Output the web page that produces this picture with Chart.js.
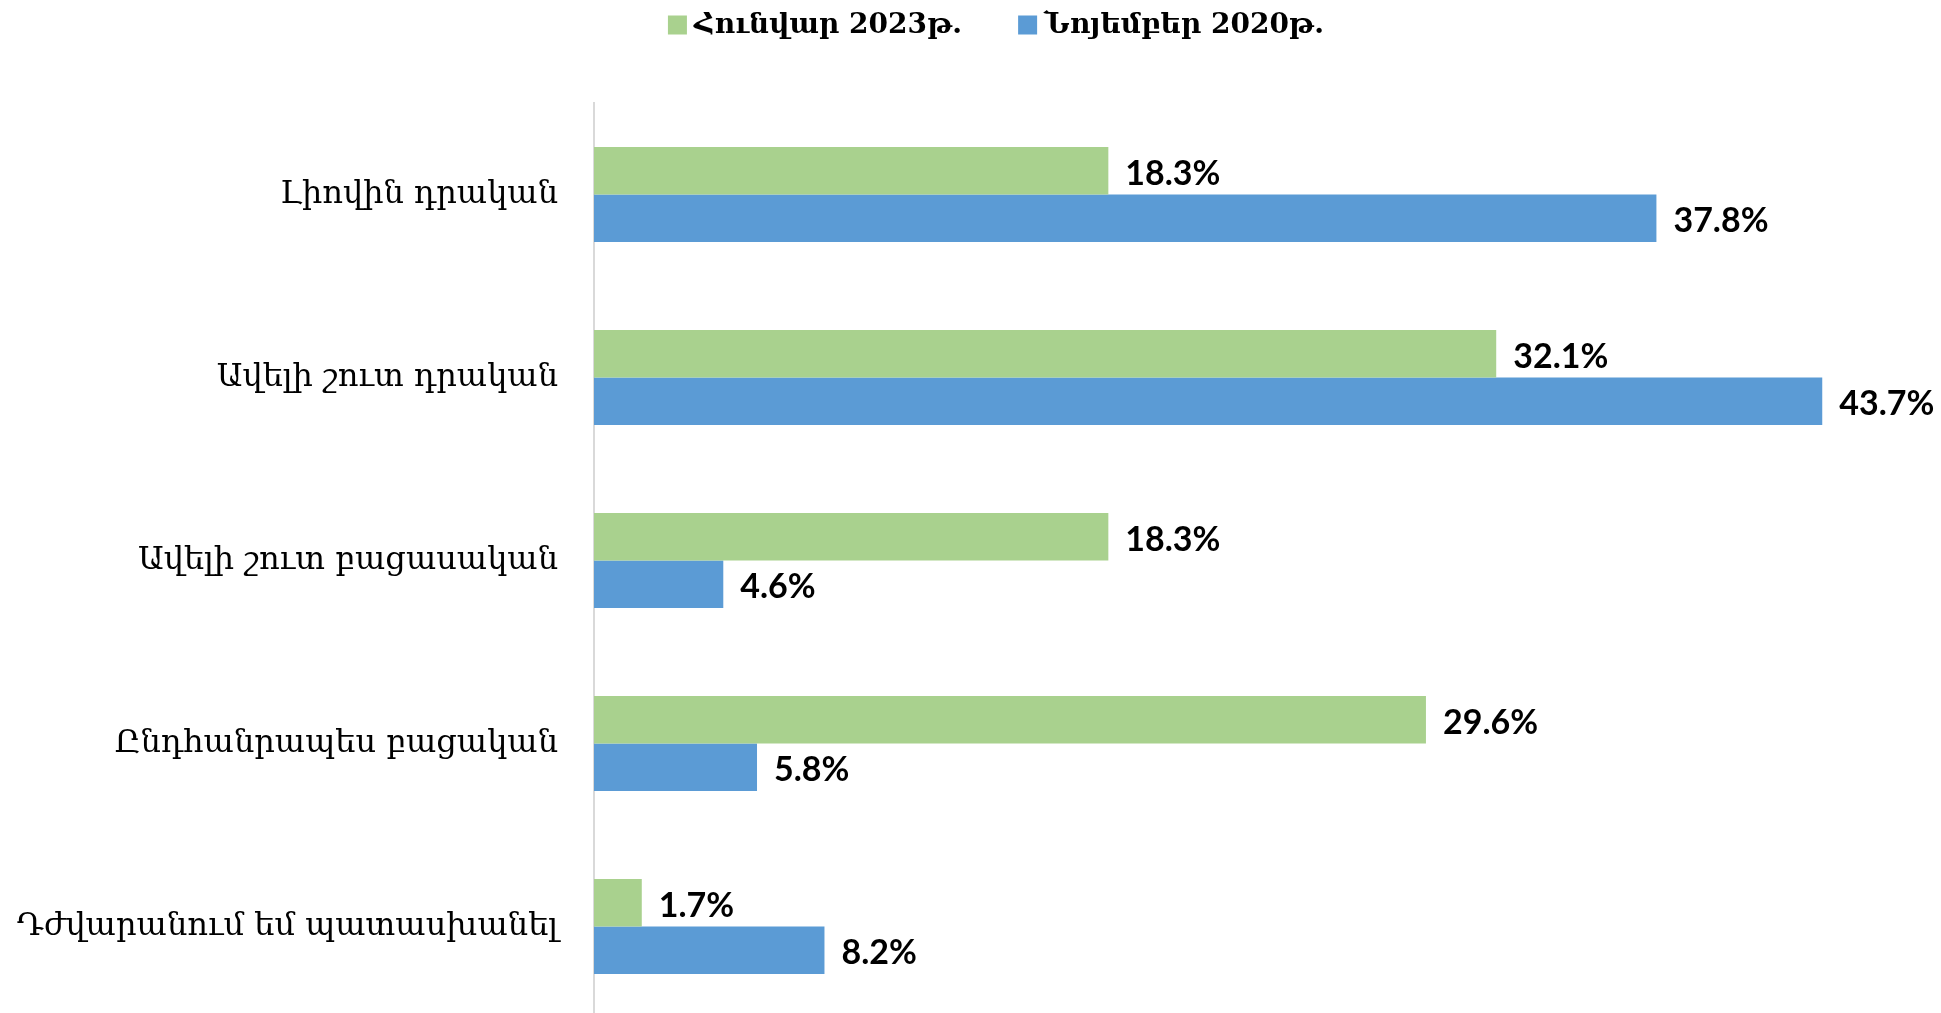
<!DOCTYPE html>
<html>
<head>
<meta charset="utf-8">
<script src="https://cdn.jsdelivr.net/npm/chart.js@4.4.1/dist/chart.umd.min.js"></script>
<style>
html,body{margin:0;padding:0;background:#fff;overflow:hidden;}
canvas{display:block;}
</style>
</head>
<body>
<canvas id="c" width="1941" height="1020" style="width:1941px;height:1020px"></canvas>
<script>
const categories = ["Լիովին դրական", "Ավելի շուտ դրական", "Ավելի շուտ բացասական", "Ընդհանրապես բացական", "Դժվարանում եմ պատասխանել"];
const seriesNames = ["Հունվար 2023թ.", "Նոյեմբեր 2020թ."];
const jan2023 = [18.3, 32.1, 18.3, 29.6, 1.7];
const nov2020 = [37.8, 43.7, 4.6, 5.8, 8.2];

const valueLabels = {
  id: 'valueLabels',
  afterDatasetsDraw(chart) {
    const ctx = chart.ctx;
    ctx.save();
    ctx.font = 'bold 34px Lato';
    ctx.fillStyle = '#000';
    ctx.textAlign = 'left';
    ctx.textBaseline = 'middle';
    chart.data.datasets.forEach((ds, i) => {
      const meta = chart.getDatasetMeta(i);
      meta.data.forEach((bar, j) => {
        ctx.fillText(ds.data[j].toFixed(1) + '%', bar.x + 17, bar.y + 3);
      });
    });
    ctx.restore();
  }
};

// legend drawn from the datasets (labels + colours)
const topLegend = {
  id: 'topLegend',
  afterDraw(chart) {
    const ctx = chart.ctx;
    const box = 19, boxGap = 7, itemGap = 56, cy = 25, center = 996;
    ctx.save();
    ctx.font = 'bold 28px "DejaVu Serif"';
    ctx.textBaseline = 'middle';
    ctx.textAlign = 'left';
    const items = chart.data.datasets.map(ds => ({ text: ds.label, color: ds.backgroundColor, w: ctx.measureText(ds.label).width }));
    const total = items.reduce((s, it) => s + box + boxGap + it.w, 0) + itemGap * (items.length - 1);
    let x = center - total / 2;
    items.forEach(it => {
      ctx.fillStyle = it.color;
      ctx.fillRect(x, cy - box / 2, box, box);
      ctx.fillStyle = '#000';
      ctx.fillText(it.text, x + box + boxGap, cy + 1);
      x += box + boxGap + it.w + itemGap;
    });
    ctx.restore();
  }
};

new Chart(document.getElementById('c'), {
  type: 'bar',
  data: {
    labels: categories,
    datasets: [
      { label: seriesNames[0], data: jan2023, backgroundColor: '#A9D18E', borderWidth: 0 },
      { label: seriesNames[1], data: nov2020, backgroundColor: '#5B9BD5', borderWidth: 0 }
    ]
  },
  options: {
    indexAxis: 'y',
    responsive: false,
    animation: false,
    layout: { autoPadding: false, padding: { top: 0, right: 26, bottom: 2, left: 0 } },
    datasets: { bar: { categoryPercentage: 0.52, barPercentage: 1 } },
    plugins: {
      legend: { display: false },
      tooltip: { enabled: false }
    },
    scales: {
      x: {
        display: true, position: 'top', min: 0, max: 47,
        grid: { display: false }, border: { display: false },
        ticks: { display: false },
        afterFit(scale) { scale.height = 103; }
      },
      y: {
        afterFit(scale) { scale.width = 594; scale.paddingTop = 0; scale.paddingBottom = 0; },
        grid: { display: false },
        border: { display: true, color: '#D9D9D9', width: 2 },
        ticks: {
          font: { family: 'DejaVu Serif', size: 32 },
          color: '#000',
          padding: 28
        }
      }
    }
  },
  plugins: [valueLabels, topLegend]
});
</script>
</body>
</html>
